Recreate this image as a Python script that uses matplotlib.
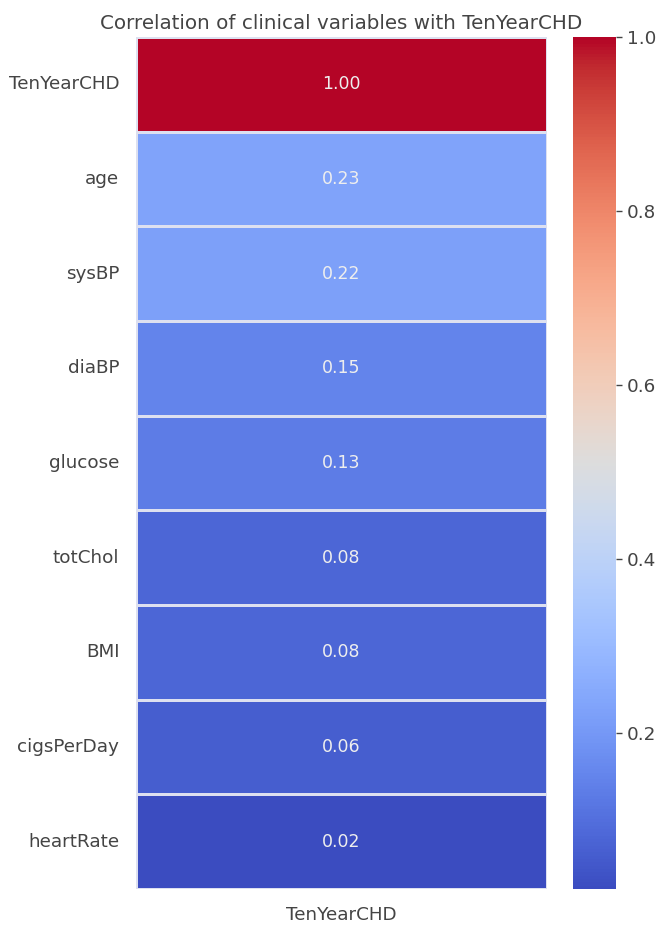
import matplotlib
matplotlib.use("Agg")
import matplotlib.pyplot as plt
import seaborn as sns
import pandas as pd

variables = ["TenYearCHD", "age", "sysBP", "diaBP", "glucose",
             "totChol", "BMI", "cigsPerDay", "heartRate"]
correlations = [1.00, 0.23, 0.22, 0.15, 0.13, 0.08, 0.08, 0.06, 0.02]

sns.set_theme(style="white")
plt.rcParams['font.family'] = ['DejaVu Sans']

corr = pd.DataFrame({"TenYearCHD": correlations}, index=variables)

W, H = 660, 927
fig = plt.figure(figsize=(W / 100, H / 100), dpi=100)
ax = fig.add_axes([136 / W, 1 - 889 / H, 411 / W, 852 / H])
cax = fig.add_axes([573 / W, 1 - 889 / H, 43 / W, 852 / H])

sns.heatmap(corr, annot=True, fmt=".2f", cmap="coolwarm",
            linewidths=0.8, linecolor="#dde0f0",
            annot_kws={"fontsize": 12.5, "color": "#eeeeee"},
            ax=ax, cbar_ax=cax)

ax.set_title("Correlation of clinical variables with TenYearCHD",
             fontsize=14.3, color="#444444", pad=6)
ax.tick_params(axis="y", length=0, labelsize=13.2, labelcolor="#444444", pad=12)
ax.tick_params(axis="x", length=0, labelsize=13.2, labelcolor="#444444", pad=12)
ax.set_yticklabels(variables, rotation=0)

cax.tick_params(labelsize=13.2, labelcolor="#444444", length=4, width=1,
                color="#444444", right=True, pad=4)
cax.set_yticks([0.2, 0.4, 0.6, 0.8, 1.0])

fig.savefig("out.png", dpi=100)
